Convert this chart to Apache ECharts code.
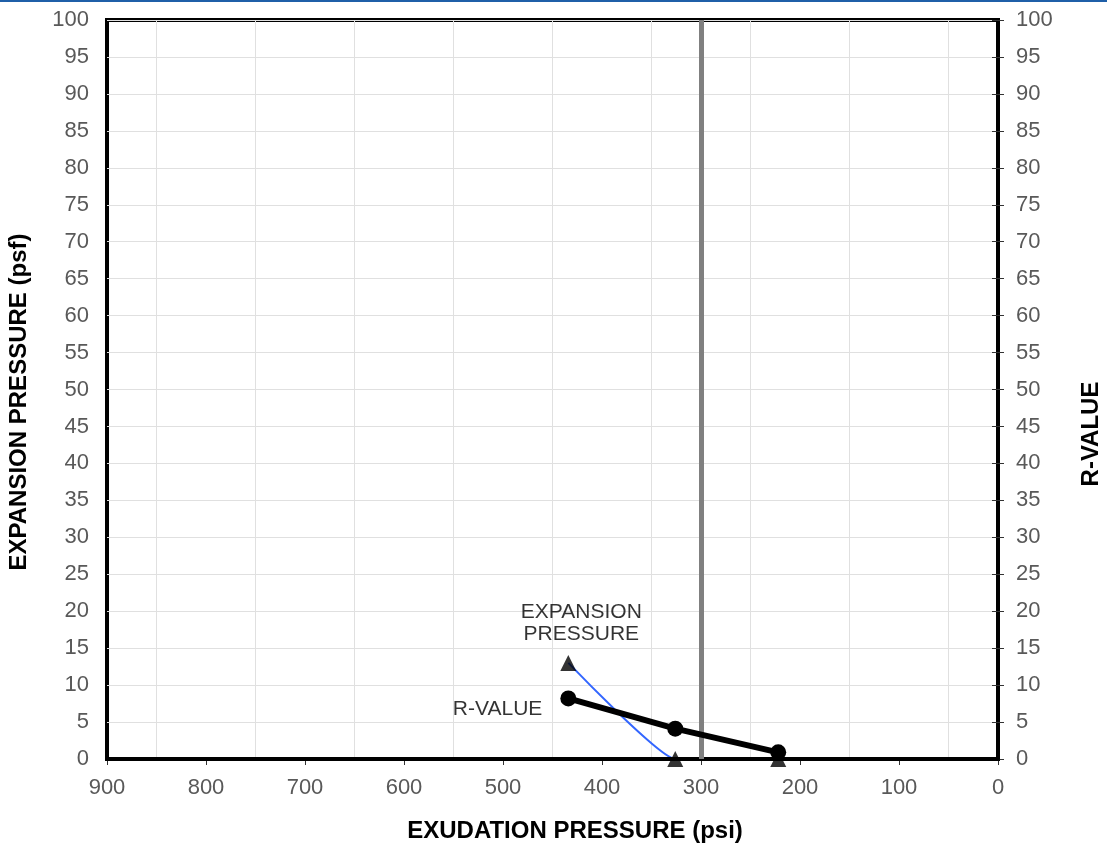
<!DOCTYPE html>
<html><head><meta charset="utf-8">
<script src="https://cdn.jsdelivr.net/npm/echarts@6/dist/echarts.min.js"></script>
<style>html,body{margin:0;padding:0;background:#fff}#c{width:1107px;height:846px}</style>
</head><body><div id="c"></div>
<script>
const exudation = [434, 326, 222];
const expansionPressure = [13, 0, 0];
const rValue = [8.2, 4.1, 0.9];
const designExudation = 300;
const xTitle = 'EXUDATION PRESSURE (psi)';
const yLeftTitle = 'EXPANSION PRESSURE (psf)';
const yRightTitle = 'R-VALUE';

const pair = (xs, ys) => xs.map((x, i) => [x, ys[i]]);
const font = 'Liberation Sans, Arial, sans-serif';
const titleFont = 'bold 24px Liberation Sans, Arial, sans-serif';
const chart = echarts.init(document.getElementById('c'));
const yAxisBase = {
  type: 'value', min: 0, max: 100, interval: 5,
  axisLine: {show: true, lineStyle: {color: '#000', width: 4}},
  axisTick: {show: true, length: 6, lineStyle: {color: '#333', width: 1}},
  axisLabel: {color: '#595959', fontSize: 22, fontFamily: font, margin: 18},
  splitLine: {show: true, lineStyle: {color: '#e0e0e0', width: 1}}
};
chart.setOption({
  animation: false,
  grid: {left: 107, right: 109, top: 20, bottom: 87, show: true, borderColor: '#000', borderWidth: 4,
    containLabel: false, outerBoundsMode: 'none'},
  graphic: [
    {type: 'rect', shape: {x: 0, y: 0, width: 1107, height: 2}, style: {fill: '#1f5fa8'}},
    {type: 'text', x: 575, y: 831, style: {text: xTitle, font: titleFont, fill: '#000', align: 'center', verticalAlign: 'middle'}},
    {type: 'text', x: 19, y: 402, rotation: Math.PI / 2, style: {text: yLeftTitle, font: titleFont, fill: '#000', align: 'center', verticalAlign: 'middle'}},
    {type: 'text', x: 1091, y: 434, rotation: Math.PI / 2, style: {text: yRightTitle, font: titleFont, fill: '#000', align: 'center', verticalAlign: 'middle'}}
  ],
  xAxis: [{
    type: 'value', min: 0, max: 900, interval: 100, inverse: true,
    axisLine: {show: true, onZero: false, lineStyle: {color: '#000', width: 4}},
    axisTick: {show: true, length: 6, lineStyle: {color: '#333'}},
    axisLabel: {color: '#595959', fontSize: 22, fontFamily: font, margin: 18},
    splitLine: {show: false},
    minorTick: {show: false, splitNumber: 2},
    minorSplitLine: {show: true, lineStyle: {color: '#e0e0e0', width: 1}}
  }, {
    type: 'value', min: 0, max: 900, inverse: true, position: 'bottom', z: 3,
    axisLine: {show: true, onZero: false, lineStyle: {color: '#000', width: 4}},
    axisTick: {show: false}, axisLabel: {show: false}, splitLine: {show: false}
  }],
  yAxis: [
    Object.assign({}, yAxisBase, {position: 'left'}),
    Object.assign({}, yAxisBase, {position: 'right', splitLine: {show: false}})
  ],
  series: [
    {
      type: 'line', data: pair(exudation, expansionPressure), smooth: 0.12,
      showSymbol: false, lineStyle: {color: '#3366ff', width: 2}, z: 2,
      markLine: {
        silent: true, symbol: 'none', label: {show: false},
        lineStyle: {color: '#808080', width: 5, type: 'solid'},
        data: [{xAxis: designExudation}]
      }
    },
    {
      type: 'scatter', data: pair(exudation, expansionPressure), symbol: 'triangle', symbolSize: 16,
      itemStyle: {color: '#000'}, z: 4
    },
    {
      type: 'line', yAxisIndex: 1, data: pair(exudation, rValue), symbol: 'circle', symbolSize: 16,
      lineStyle: {color: '#000', width: 6}, itemStyle: {color: '#000'}, z: 5
    },
    {
      type: 'scatter', data: [[exudation[0], expansionPressure[0]]], symbolSize: 0, silent: true, z: 6,
      label: {show: true, formatter: 'EXPANSION\nPRESSURE', position: 'top', distance: 18, offset: [13, 0],
        color: '#000', fontSize: 21, fontFamily: font, lineHeight: 22, align: 'center'}
    },
    {
      type: 'scatter', yAxisIndex: 1, data: [[exudation[0], rValue[0]]], symbolSize: 0, silent: true, z: 6,
      label: {show: true, formatter: 'R-VALUE', position: 'left', distance: 26, offset: [0, 11],
        color: '#000', fontSize: 21, fontFamily: font}
    }
  ]
});
</script></body></html>
